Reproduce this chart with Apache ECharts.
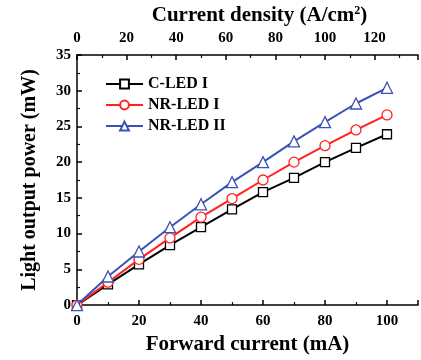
<!DOCTYPE html>
<html>
<head>
<meta charset="utf-8">
<script src="https://cdn.jsdelivr.net/npm/echarts@6/dist/echarts.min.js"></script>
<style>html,body{margin:0;padding:0;background:#fff}#c{width:421px;height:360px}</style>
</head>
<body>
<div id="c"></div>
<script>
const currents = [0, 10, 20, 30, 40, 50, 60, 70, 80, 90, 100];
const cLedI = [0, 2.9, 5.7, 8.4, 10.9, 13.4, 15.8, 17.8, 20.0, 22.0, 23.9];
const nrLedI = [0, 3.2, 6.4, 9.4, 12.3, 14.9, 17.5, 20.0, 22.3, 24.5, 26.6];
const nrLedII = [0, 4.0, 7.5, 10.9, 14.1, 17.2, 20.0, 22.9, 25.6, 28.2, 30.4];
const seriesNames = ['C-LED I', 'NR-LED I', 'NR-LED II'];
const densityPerMA = 1.25;

const font = "'Liberation Serif', 'Times New Roman', serif";
const pairs = arr => currents.map((x, i) => [x, arr[i]]);
const axisCommon = {
  axisLine: {show: true, lineStyle: {color: '#000', width: 1.5}},
  axisTick: {show: true, inside: true, length: 5, lineStyle: {color: '#000', width: 1.5}},
  minorTick: {show: true, splitNumber: 2, length: 3, lineStyle: {color: '#000', width: 1.2}},
  splitLine: {show: false},
  axisLabel: {fontFamily: font, fontWeight: 'bold', fontSize: 15, color: '#000'},
  nameTextStyle: {fontFamily: font, fontWeight: 'bold', fontSize: 21, color: '#000'}
};
const xMax = 110;
const chart = echarts.init(document.getElementById('c'), null, {renderer: 'canvas'});
const colors = ['#000000', '#ff2020', '#3a52b4'];
const symbols = ['rect', 'circle', 'triangle'];
const sizes = [9, 10, 11];
const datas = [cLedI, nrLedI, nrLedII];
chart.setOption({
  animation: false,
  backgroundColor: '#fff',
  grid: {left: 77, right: -4, top: 53, bottom: 49, containLabel: false},
  legend: {
    left: 100, top: 71, orient: 'vertical', itemWidth: 37, itemHeight: 11, itemGap: 5,
    textStyle: {fontFamily: font, fontWeight: 'bold', fontSize: 16, color: '#000'},
    data: seriesNames
  },
  xAxis: [
    Object.assign({}, axisCommon, {
      type: 'value', position: 'bottom', min: 0, max: xMax, interval: 20,
      name: 'Forward current (mA)', nameLocation: 'middle', nameGap: 22,
      axisLabel: Object.assign({}, axisCommon.axisLabel, {margin: 9,
        formatter: v => (v % 20 === 0 && v <= 100) ? String(v) : ''})
    }),
    Object.assign({}, axisCommon, {
      type: 'value', position: 'top', min: 0, max: xMax * densityPerMA, interval: 20,
      name: 'Current density (A/cm{s|2})', nameLocation: 'middle', nameGap: 22,
      nameTextStyle: Object.assign({}, axisCommon.nameTextStyle, {
        padding: [0, 0, 0, 24],
        rich: {s: {fontFamily: font, fontWeight: 'bold', fontSize: 12, color: '#000', verticalAlign: 'top', padding: [0, 0, 8, 0]}}
      }),
      axisLabel: Object.assign({}, axisCommon.axisLabel, {margin: 9,
        formatter: v => (v % 20 === 0 && v <= 120) ? String(v) : ''})
    })
  ],
  yAxis: Object.assign({}, axisCommon, {
    type: 'value', min: 0, max: 35, interval: 5,
    name: 'Light output power (mW)', nameLocation: 'middle', nameGap: 37,
    nameTextStyle: Object.assign({}, axisCommon.nameTextStyle, {fontSize: 20}),
    axisLabel: Object.assign({}, axisCommon.axisLabel, {margin: 6})
  }),
  series: seriesNames.map((n, i) => ({
    name: n, type: 'line', xAxisIndex: 0, data: pairs(datas[i]),
    symbol: symbols[i], symbolSize: sizes[i], showSymbol: true,
    lineStyle: {color: colors[i], width: 2},
    itemStyle: {color: '#fff', borderColor: colors[i], borderWidth: 1.3},
    z: 3 + i
  }))
});
</script>
</body>
</html>
